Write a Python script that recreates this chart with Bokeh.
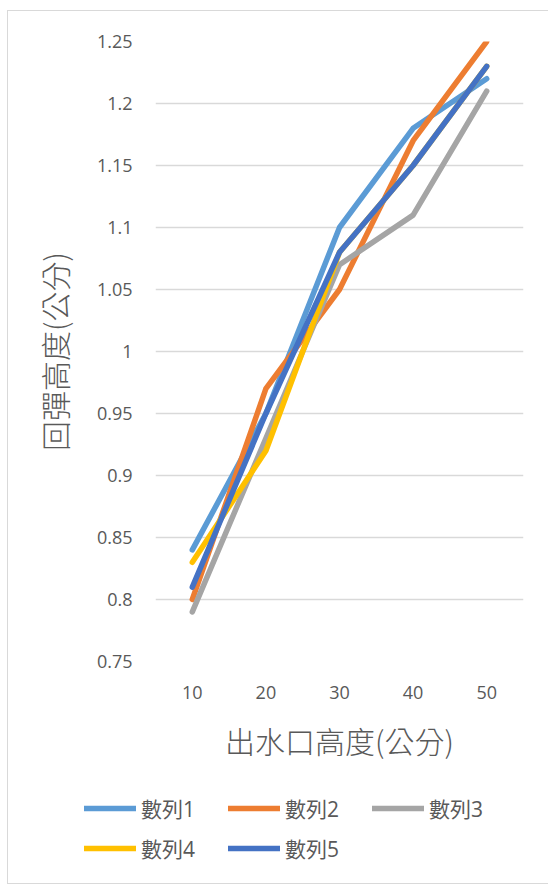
from bokeh.plotting import figure
from bokeh.layouts import column
from bokeh.models import Range1d, FactorRange, FixedTicker, Legend, LegendItem
from bokeh.embed import file_html
from bokeh.resources import INLINE

# Nozzle height (cm) categories and rebound heights (cm) for five trials
heights = ["10", "20", "30", "40", "50"]
series_names = ["數列1", "數列2", "數列3", "數列4", "數列5"]
s1 = [0.84, 0.95, 1.10, 1.18, 1.22]
s2 = [0.80, 0.97, 1.05, 1.17, 1.25]
s3 = [0.79, 0.93, 1.07, 1.11, 1.21]
s4 = [0.83, 0.92, 1.08, 1.15, 1.23]
s5 = [0.81, 0.95, 1.08, 1.15, 1.23]
series = [s1, s2, s3, s4, s5]
colors = ["#5B9BD5", "#ED7D31", "#A5A5A5", "#FFC000", "#4472C4"]

y_ticks = [0.75, 0.8, 0.85, 0.9, 0.95, 1.0, 1.05, 1.1, 1.15, 1.2, 1.25]
y_tick_labels = ["0.75", "0.8", "0.85", "0.9", "0.95", "1", "1.05", "1.1", "1.15", "1.2", "1.25"]

x_title = "出水口高度(公分)"
y_title = "回彈高度(公分)"

TEXT = "#595959"
GRID = "#D9D9D9"
NUM_FONT = "'Open Sans'"
CJK_FONT = "'Noto Sans CJK TC Light', 'Noto Sans CJK TC'"
MIX_FONT = "'Open Sans', 'Noto Sans CJK TC'"
LINE_W = 5.5

# ---- main chart ----
p = figure(
    width=540, height=760,
    x_range=FactorRange(*heights, range_padding=0),
    y_range=Range1d(0.75, 1.25),
    output_backend="svg", toolbar_location=None,
    min_border_left=147, min_border_right=25,
    min_border_top=30, min_border_bottom=110,
)
p.frame_align = False
p.outline_line_color = None
p.background_fill_color = "white"
p.border_fill_color = "white"

p.xgrid.grid_line_color = None
p.ygrid.grid_line_color = GRID
p.ygrid.grid_line_width = 1.3

p.yaxis.ticker = FixedTicker(ticks=y_ticks)
p.yaxis.major_label_overrides = {t: s for t, s in zip(y_ticks, y_tick_labels)}
p.yaxis.axis_line_color = None
p.yaxis.major_tick_line_color = None
p.yaxis.minor_tick_line_color = None
p.yaxis.major_tick_out = 0
p.yaxis.major_tick_in = 0
p.yaxis.major_label_standoff = 23
p.yaxis.major_label_text_font = NUM_FONT
p.yaxis.major_label_text_font_size = "18px"
p.yaxis.major_label_text_color = TEXT
p.yaxis.axis_label = y_title
p.yaxis.axis_label_text_font = CJK_FONT
p.yaxis.axis_label_text_font_size = "30px"
p.yaxis.axis_label_text_font_style = "normal"
p.yaxis.axis_label_text_color = TEXT
p.yaxis.axis_label_standoff = 18

p.xaxis.axis_line_color = None
p.xaxis.major_tick_line_color = None
p.xaxis.minor_tick_line_color = None
p.xaxis.major_tick_out = 0
p.xaxis.major_tick_in = 0
p.xaxis.major_label_standoff = 24
p.xaxis.major_label_text_font = NUM_FONT
p.xaxis.major_label_text_font_size = "18px"
p.xaxis.major_label_text_color = TEXT
p.xaxis.axis_label = x_title
p.xaxis.axis_label_text_font = CJK_FONT
p.xaxis.axis_label_text_font_size = "30px"
p.xaxis.axis_label_text_font_style = "normal"
p.xaxis.axis_label_text_color = TEXT
p.xaxis.axis_label_standoff = 16

for vals, col in zip(series, colors):
    p.line(heights, vals, line_color=col, line_width=LINE_W,
           line_cap="round", line_join="round")

# ---- legend strip (swatch renderers carry no visible data) ----
lg = figure(
    width=540, height=112,
    x_range=Range1d(0, 1), y_range=Range1d(0, 1),
    x_axis_type=None, y_axis_type=None,
    output_backend="svg", toolbar_location=None,
    min_border=0,
)
lg.frame_align = False
lg.grid.visible = False
lg.outline_line_color = None
lg.background_fill_color = "white"
lg.border_fill_color = "white"

nan = float("nan")
items = []
for name, col in zip(series_names, colors):
    r = lg.line([nan], [nan], line_color=col, line_width=LINE_W,
                line_cap="round", line_join="round")
    items.append(LegendItem(label=name, renderers=[r]))

legend = Legend(
    items=items, orientation="horizontal", ncols=3,
    location=(76, 15),
    glyph_width=52, glyph_height=40, label_height=40, label_width=87,
    label_standoff=5, spacing=0, padding=0, margin=0,
    label_text_font=MIX_FONT, label_text_font_size="21px",
    label_text_color=TEXT, border_line_color=None,
    background_fill_alpha=0,
)
lg.add_layout(legend, "center")

page = column(p, lg, spacing=0)
page.margin = (10, 0, 0, 7)
page.styles = {"border": "1px solid #D9D9D9"}

open("out.html", "w").write(file_html(page, INLINE))
